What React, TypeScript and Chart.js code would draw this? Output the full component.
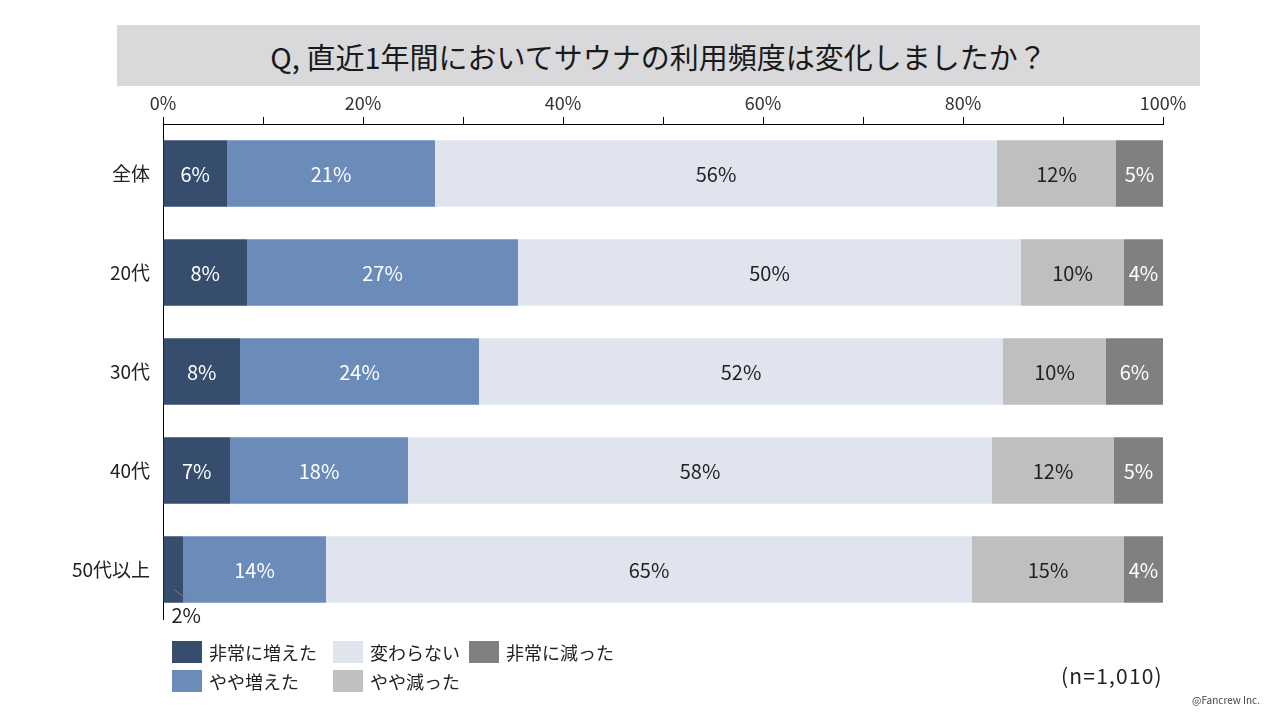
import React, { useEffect, useRef } from "react";
import { Chart, registerables } from "chart.js";

Chart.register(...registerables);

const titleText = "Q, 直近1年間においてサウナの利用頻度は変化しましたか？";
const categories = ["全体", "20代", "30代", "40代", "50代以上"];
const seriesNames = ["非常に増えた", "やや増えた", "変わらない", "やや減った", "非常に減った"];
const seriesColors = ["#374d6e", "#6b8cb8", "#dfe4ee", "#bfbfbf", "#808080"];
const labelColors = ["#ffffff", "#ffffff", "#222222", "#222222", "#ffffff"];
const veryIncreased = [6.4, 8.4, 7.7, 6.7, 2.0];
const slightlyIncreased = [20.8, 27.1, 23.9, 17.8, 14.3];
const unchanged = [56.2, 50.3, 52.4, 58.4, 64.6];
const slightlyDecreased = [11.9, 10.3, 10.3, 12.2, 15.2];
const veryDecreased = [4.7, 3.9, 5.7, 4.9, 3.9];
const seriesValues = [veryIncreased, slightlyIncreased, unchanged, slightlyDecreased, veryDecreased];
const xTickStep = 10;
const legendOrder = [0, 2, 4, 1, 3];
const sampleNote = "(n=1,010)";
const creditNote = "@Fancrew Inc.";

const FONT = '"Noto Sans CJK JP", "Noto Sans", sans-serif';

const labelPlugin = {
  id: "segLabels",
  afterDatasetsDraw(chart: any) {
    const ctx = chart.ctx;
    ctx.save();
    ctx.font = `20px ${FONT}`;
    ctx.textAlign = "center";
    ctx.textBaseline = "middle";
    chart.data.datasets.forEach((ds: any, di: number) => {
      const meta = chart.getDatasetMeta(di);
      meta.data.forEach((el: any, i: number) => {
        const v = ds.data[i];
        const txt = Math.round(v) + "%";
        const cx = (el.x + el.base) / 2;
        if (v < 3) {
          const yb = el.y + el.height / 2;
          ctx.strokeStyle = "#7f7f7f";
          ctx.lineWidth = 1;
          ctx.beginPath();
          ctx.moveTo(cx + 1, yb - 13);
          ctx.lineTo(cx + 15, yb - 2);
          ctx.stroke();
          ctx.fillStyle = "#222222";
          ctx.fillText(txt, cx + 13, yb + 13);
        } else {
          ctx.fillStyle = labelColors[di];
          ctx.fillText(txt, cx, el.y + 1);
        }
      });
    });
    ctx.restore();
  },
};

export default function App() {
  const ref = useRef<HTMLCanvasElement>(null);
  useEffect(() => {
    if (!ref.current) return;
    const chart = new Chart(ref.current, {
      type: "bar",
      data: {
        labels: categories,
        datasets: seriesNames.map((n, i) => ({
          label: n,
          data: seriesValues[i],
          backgroundColor: seriesColors[i],
          borderWidth: 0,
          categoryPercentage: 1,
          barPercentage: 0.67,
        })),
      },
      options: {
        indexAxis: "y",
        responsive: false,
        animation: false,
        devicePixelRatio: 1,
        layout: { padding: { top: 0, left: 0, right: 117, bottom: 101 } },
        plugins: { legend: { display: false }, title: { display: false }, tooltip: { enabled: false } },
        scales: {
          x: {
            position: "top",
            stacked: true,
            min: 0,
            max: 100,
            afterFit: (s: any) => { s.height = 124; },
            ticks: {
              stepSize: xTickStep,
              autoSkip: false,
              maxRotation: 0,
              padding: 3,
              color: "#333333",
              font: { family: FONT, size: 18 },
              callback: (v: any) => (v % 20 === 0 ? v + "%" : ""),
            },
            grid: { display: true, drawOnChartArea: false, drawTicks: true, tickLength: 7, color: "#000000", lineWidth: 1 },
            border: { display: true, color: "#000000", width: 1 },
          },
          y: {
            stacked: true,
            afterFit: (s: any) => { s.width = 163; },
            ticks: { padding: 13, color: "#222222", font: { family: FONT, size: 19 } },
            grid: { display: false, drawTicks: false },
            border: { display: true, color: "#000000", width: 1 },
          },
        },
      },
      plugins: [labelPlugin],
    } as any);
    return () => chart.destroy();
  }, []);

  return (
    <div style={{ position: "fixed", left: 0, top: 0, width: 1280, height: 720, background: "#fff", fontFamily: FONT, overflow: "hidden" }}>
      <div style={{ position: "absolute", left: 117, top: 25, width: 1083, height: 61, background: "#d9d9dc", display: "flex", alignItems: "center", justifyContent: "center", fontSize: 29, color: "#1a1a1a" }}>
        {titleText}
      </div>
      <canvas ref={ref} width={1280} height={720} style={{ position: "absolute", left: 0, top: 0 }} />
      {legendOrder.map((si, k) => {
        const col = k < 3 ? k : k - 3;
        const row = k < 3 ? 0 : 1;
        const lefts = [172, 333, 469];
        return (
          <div key={si} style={{ position: "absolute", left: lefts[col], top: 641 + row * 29, height: 22, display: "flex", alignItems: "center", whiteSpace: "nowrap" }}>
            <div style={{ width: 30, height: 22, background: seriesColors[si], marginRight: 7 }} />
            <span style={{ fontSize: 18, color: "#222", lineHeight: "22px" }}>{seriesNames[si]}</span>
          </div>
        );
      })}
      <div style={{ position: "absolute", left: 1061, top: 660, fontSize: 21, letterSpacing: 1.2, color: "#222", lineHeight: "30px" }}>{sampleNote}</div>
      <div style={{ position: "absolute", left: 1192, top: 693, fontSize: 10, color: "#444", lineHeight: "14px" }}>{creditNote}</div>
    </div>
  );
}
